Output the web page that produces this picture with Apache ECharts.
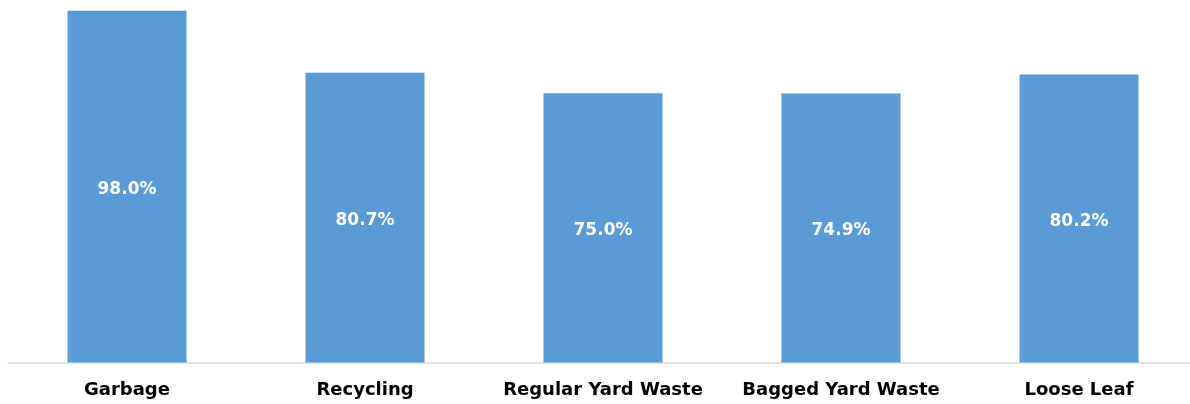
<!DOCTYPE html>
<html>
<head>
<meta charset="utf-8">
<script src="https://cdn.jsdelivr.net/npm/echarts@6/dist/echarts.min.js"></script>
<style>
  html, body { margin: 0; padding: 0; background: #ffffff; }
  #chart { width: 1190px; height: 404px; }
</style>
</head>
<body>
<div id="chart"></div>
<script>
// Share of households using each collection service (%)
const categories = ['Garbage', 'Recycling', 'Regular Yard Waste', 'Bagged Yard Waste', 'Loose Leaf'];
const usageShare = [98.0, 80.7, 75.0, 74.9, 80.2];

const chart = echarts.init(document.getElementById('chart'), null, { renderer: 'canvas' });

chart.setOption({
  animation: false,
  grid: { left: 8, width: 1190, top: 3.5, bottom: 41.5, outerBoundsMode: 'none', containLabel: false },
  xAxis: {
    type: 'category',
    data: categories,
    axisLine: { lineStyle: { color: '#d9d9d9', width: 1.5 } },
    axisTick: { show: false },
    axisLabel: {
      interval: 0,
      hideOverlap: false,
      color: '#000000',
      fontFamily: 'DejaVu Sans',
      fontWeight: 'bold',
      fontSize: 18,
      margin: 19
    }
  },
  yAxis: {
    type: 'value',
    min: 0,
    max: 100,
    show: false,
    splitLine: { show: false }
  },
  series: [{
    type: 'bar',
    data: usageShare,
    barWidth: '50%',
    itemStyle: { color: '#5b9bd5' },
    label: {
      show: true,
      position: 'inside',
      offset: [0, 3],
      color: '#ffffff',
      fontFamily: 'DejaVu Sans',
      fontWeight: 'bold',
      fontSize: 17,
      formatter: p => p.value.toFixed(1) + '%'
    }
  }]
});
</script>
</body>
</html>
